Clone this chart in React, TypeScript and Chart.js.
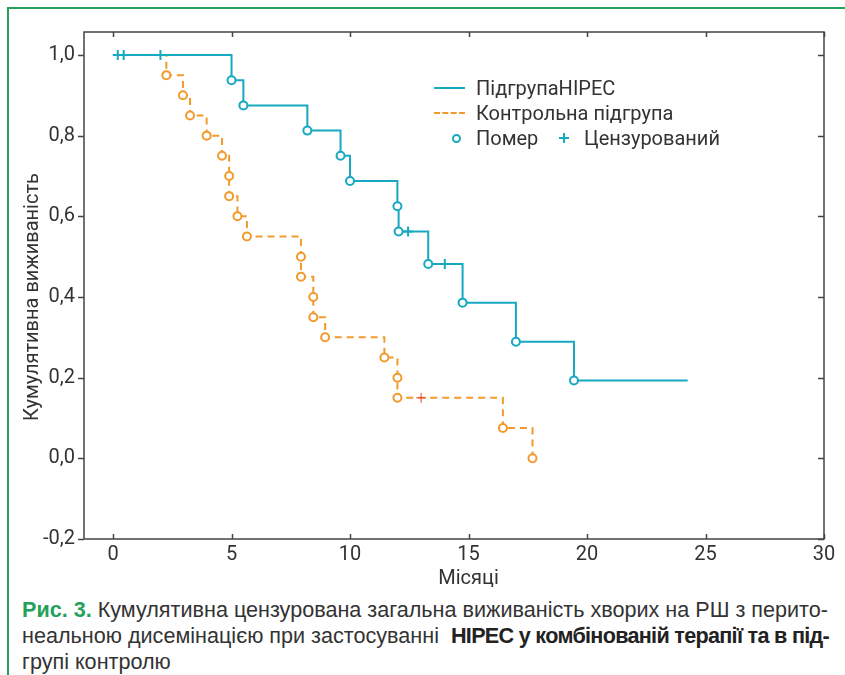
import React, { useEffect, useRef } from "react";
import { Chart, registerables } from "chart.js";

Chart.register(...registerables);

// ---- data ----
const xTickValues = [0, 5, 10, 15, 20, 25, 30];
const yTickValues = [-0.2, 0, 0.2, 0.4, 0.6, 0.8, 1.0];

const hipecDeathT = [5.0, 5.5, 8.2, 9.6, 10.0, 12.0, 12.05, 13.3, 14.75, 17.0, 19.45];
const hipecDeathS = [0.9375, 0.875, 0.8125, 0.75, 0.6875, 0.625, 0.5625, 0.482, 0.386, 0.289, 0.193];
const hipecCensT = [0.2, 0.45, 2.0, 12.45, 14.0];
const hipecCensS = [1, 1, 1, 0.5625, 0.482];
const hipecEndT = 24.25;

const ctrlDeathT = [2.25, 2.95, 3.25, 3.95, 4.6, 4.9, 4.9, 5.25, 5.65, 7.93, 7.93, 8.45, 8.45, 8.95, 11.45, 12.0, 12.0, 16.45, 17.7];
const ctrlDeathS = [0.95, 0.9, 0.85, 0.8, 0.75, 0.7, 0.65, 0.6, 0.55, 0.5, 0.45, 0.4, 0.35, 0.3, 0.25, 0.2, 0.15, 0.075, 0.0];
const ctrlCensT = [13.0];
const ctrlCensS = [0.15];

const TEAL = "#17a9c1";
const ORANGE = "#f39a2c";
const TEXT = "#333333";
const GREEN = "#24a05a";

type P = { x: number; y: number };

function buildCurve(dT: number[], dS: number[], cT: number[], cS: number[], endT?: number): P[] {
  const pts: P[] = [{ x: 0, y: 1 }];
  const all: P[] = [];
  dT.forEach((t, i) => all.push({ x: t, y: dS[i] }));
  cT.forEach((t, i) => all.push({ x: t, y: cS[i] }));
  all.sort((a, b) => a.x - b.x || b.y - a.y);
  pts.push(...all);
  if (endT !== undefined) pts.push({ x: endT, y: pts[pts.length - 1].y });
  return pts;
}

const framePlugin = {
  id: "frame",
  beforeDatasetsDraw(chart: any) {
    const { ctx, chartArea } = chart;
    const { left, right, top, bottom } = chartArea;
    const xs = chart.scales.x;
    const ys = chart.scales.y;
    ctx.save();
    ctx.strokeStyle = "#444";
    ctx.lineWidth = 1.5;
    ctx.strokeRect(left, top, right - left, bottom - top);
    ctx.beginPath();
    xTickValues.forEach((v) => {
      const px = Math.round(xs.getPixelForValue(v)) + 0.5;
      ctx.moveTo(px, bottom);
      ctx.lineTo(px, bottom - 5);
      ctx.moveTo(px, top);
      ctx.lineTo(px, top + 5);
    });
    yTickValues.forEach((v) => {
      const py = Math.round(ys.getPixelForValue(v)) + 0.5;
      ctx.moveTo(left, py);
      ctx.lineTo(left - 6, py);
      ctx.moveTo(right, py);
      ctx.lineTo(right - 6, py);
    });
    ctx.stroke();
    ctx.restore();
  },
  afterDraw(chart: any) {
    const { ctx, chartArea } = chart;
    const xs = chart.scales.x;
    const ys = chart.scales.y;
    ctx.save();
    ctx.fillStyle = TEXT;
    ctx.font = "20px Roboto";
    ctx.textAlign = "center";
    ctx.textBaseline = "middle";
    ctx.fillText("Місяці", xs.getPixelForValue(15), chartArea.bottom + 40);
    ctx.translate(33, ys.getPixelForValue(0.4));
    ctx.rotate(-Math.PI / 2);
    ctx.fillText("Кумулятивна виживаність", 0, 0);
    ctx.restore();
  },
};

function KMChart() {
  const ref = useRef<HTMLCanvasElement | null>(null);
  useEffect(() => {
    if (!ref.current) return;
    const hipecLine = buildCurve(hipecDeathT, hipecDeathS, hipecCensT, hipecCensS, hipecEndT);
    const ctrlLine = buildCurve(ctrlDeathT, ctrlDeathS, ctrlCensT, ctrlCensS);
    const chart = new Chart(ref.current, {
      type: "line",
      data: {
        datasets: [
          {
            type: "line",
            label: "ПідгрупаHIPEC",
            data: hipecLine,
            borderColor: TEAL,
            borderWidth: 2,
            stepped: "before",
            pointRadius: 0,
            fill: false,
            order: 5,
          },
          {
            type: "line",
            label: "Контрольна підгрупа",
            data: ctrlLine,
            borderColor: ORANGE,
            borderWidth: 2,
            borderDash: [7, 5],
            stepped: "before",
            pointRadius: 0,
            fill: false,
            order: 6,
          },
          {
            type: "scatter",
            label: "hipec deaths",
            data: hipecDeathT.map((t, i) => ({ x: t, y: hipecDeathS[i] })),
            showLine: false,
            pointStyle: "circle",
            pointRadius: 4,
            pointBorderWidth: 2,
            pointBackgroundColor: "#fff",
            pointBorderColor: TEAL,
            order: 1,
          },
          {
            type: "scatter",
            label: "ctrl deaths",
            data: ctrlDeathT.map((t, i) => ({ x: t, y: ctrlDeathS[i] })),
            showLine: false,
            pointStyle: "circle",
            pointRadius: 4,
            pointBorderWidth: 2,
            pointBackgroundColor: "#fff",
            pointBorderColor: ORANGE,
            order: 1,
          },
          {
            type: "scatter",
            label: "hipec censored",
            data: hipecCensT.map((t, i) => ({ x: t, y: hipecCensS[i] })),
            showLine: false,
            pointStyle: "cross",
            pointRadius: 5,
            pointBorderWidth: 2,
            pointBorderColor: TEAL,
            order: 0,
          },
          {
            type: "scatter",
            label: "ctrl censored",
            data: ctrlCensT.map((t, i) => ({ x: t, y: ctrlCensS[i] })),
            showLine: false,
            pointStyle: "cross",
            pointRadius: 5,
            pointBorderWidth: 1,
            pointBorderColor: "#e5483a",
            order: 0,
          },
        ],
      },
      options: {
        responsive: false,
        animation: false,
        devicePixelRatio: 1,
        layout: { padding: { top: 32, right: 21, left: 0, bottom: 0 } },
        plugins: { legend: { display: false }, tooltip: { enabled: false } },
        scales: {
          x: {
            type: "linear",
            min: -1.225,
            max: 30,
            grid: { display: false, drawTicks: false },
            border: { display: false },
            afterBuildTicks: (s: any) => {
              s.ticks = xTickValues.map((v) => ({ value: v }));
            },
            afterFit: (s: any) => {
              s.height = 51;
            },
            ticks: {
              color: TEXT,
              font: { family: "Roboto", size: 20 },
              padding: 4,
              maxRotation: 0,
              autoSkip: false,
              callback: (v: any) => String(v),
            },
          },
          y: {
            type: "linear",
            min: -0.2,
            max: 1.057,
            grid: { display: false, drawTicks: false },
            border: { display: false },
            afterBuildTicks: (s: any) => {
              s.ticks = yTickValues.map((v) => ({ value: v }));
            },
            afterFit: (s: any) => {
              s.width = 84;
            },
            ticks: {
              color: TEXT,
              font: { family: "Roboto", size: 20 },
              padding: 9,
              autoSkip: false,
              callback: (v: any) => Number(v).toFixed(1).replace(".", ","),
            },
          },
        },
      },
      plugins: [framePlugin],
    } as any);
    return () => chart.destroy();
  }, []);
  return (
    <canvas
      ref={ref}
      width={845}
      height={590}
      style={{ position: "absolute", left: 0, top: 0, width: 845, height: 590 }}
    />
  );
}

const legendText: React.CSSProperties = {
  position: "absolute",
  fontFamily: "Roboto",
  fontSize: 20,
  color: TEXT,
  lineHeight: "24px",
  whiteSpace: "nowrap",
};

export default function App() {
  return (
    <div style={{ position: "absolute", left: 0, top: 0, width: 845, height: 675, background: "#fff", overflow: "hidden" }}>
      <div
        style={{
          position: "absolute",
          left: 7,
          top: 7,
          width: 900,
          height: 700,
          borderLeft: `2px solid ${GREEN}`,
          borderTop: `2px solid ${GREEN}`,
        }}
      />
      <KMChart />
      {/* legend */}
      <div style={{ position: "absolute", left: 434, top: 87, width: 31, borderTop: `2px solid ${TEAL}` }} />
      <div style={{ ...legendText, left: 476, top: 76 }}>ПідгрупаHIPEC</div>
      <div style={{ position: "absolute", left: 434, top: 112, width: 31, borderTop: `2px dashed ${ORANGE}` }} />
      <div style={{ ...legendText, left: 476, top: 101 }}>Контрольна підгрупа</div>
      <div
        style={{
          position: "absolute",
          left: 452,
          top: 134,
          width: 5,
          height: 5,
          borderRadius: "50%",
          border: `2px solid ${TEAL}`,
          background: "#fff",
        }}
      />
      <div style={{ ...legendText, left: 476, top: 126 }}>Помер</div>
      <div style={{ position: "absolute", left: 559, top: 137, width: 10, borderTop: `2px solid ${TEAL}` }} />
      <div style={{ position: "absolute", left: 563, top: 133, height: 10, borderLeft: `2px solid ${TEAL}` }} />
      <div style={{ ...legendText, left: 584, top: 126 }}>Цензурований</div>
      {/* caption */}
      <div
        style={{
          position: "absolute",
          left: 22,
          top: 597,
          fontFamily: "'Liberation Sans', Arial, sans-serif",
          fontSize: 21.6,
          lineHeight: "26px",
          color: TEXT,
          whiteSpace: "nowrap",
        }}
      >
        <span style={{ color: GREEN, fontWeight: 700 }}>Рис. 3.</span> Кумулятивна цензурована загальна виживаність хворих на РШ з перито-
        <br />
        неальною дисемінацією при застосуванні{" "}
        <span style={{ fontWeight: 700, color: "#222", letterSpacing: "-0.7px", marginLeft: 6 }}>HIPEC у комбінованій терапії та в під-</span>
        <br />
        групі контролю
      </div>
    </div>
  );
}
